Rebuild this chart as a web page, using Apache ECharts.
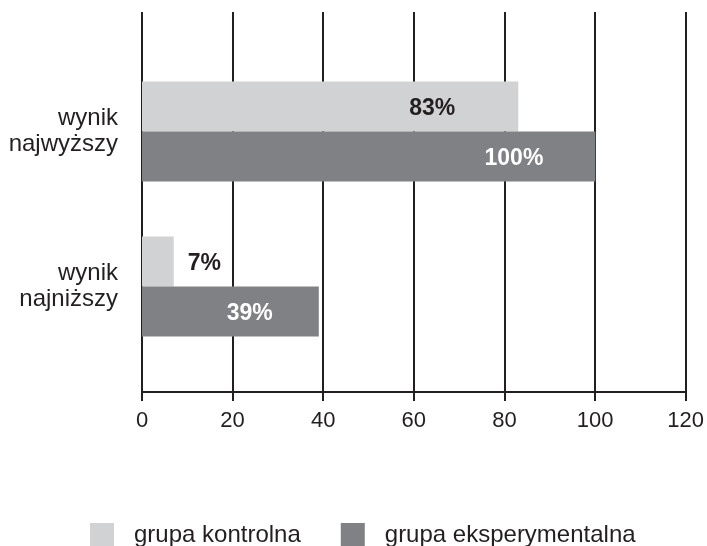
<!DOCTYPE html>
<html>
<head>
<meta charset="utf-8">
<script src="https://cdn.jsdelivr.net/npm/echarts@6/dist/echarts.min.js"></script>
<style>html,body{margin:0;padding:0;background:#fff}#c{width:707px;height:546px}</style>
</head>
<body>
<div id="c"></div>
<script>
var categories = ['wynik\nnajwyższy', 'wynik\nnajniższy'];
var seriesNames = ['grupa kontrolna', 'grupa eksperymentalna'];
var kontrolna = [83, 7];
var eksperymentalna = [100, 39];
var xTicks = [0, 20, 40, 60, 80, 100, 120];

var FONT = '"Liberation Sans", Arial, sans-serif';
var TXT = '#231f20';
var LIGHT = '#d1d2d4';
var DARK = '#808184';

// label placement (style, not data)
var labelStyleK = [
  {position: 'insideRight', distance: 63, color: TXT},
  {position: 'right', distance: 14, color: TXT}
];
var labelStyleE = [
  {position: 'insideRight', distance: 52, color: '#ffffff'},
  {position: 'insideRight', distance: 46, color: '#ffffff'}
];
function build(vals, styles) {
  return vals.map(function (v, i) {
    return {value: v, label: Object.assign({show: true, formatter: '{c}%', fontFamily: FONT, fontSize: 23, fontWeight: 'bold', offset: [0, 2]}, styles[i])};
  });
}

var chart = echarts.init(document.getElementById('c'), null, {renderer: 'canvas'});
chart.setOption({
  backgroundColor: '#fff',
  animation: false,
  legend: {
    left: 85, top: 518,
    itemWidth: 24, itemHeight: 24, itemGap: 40,
    icon: 'rect',
    data: seriesNames,
    textStyle: {fontFamily: FONT, fontSize: 24, color: TXT, padding: [0, 0, 0, 15]}
  },
  grid: [
    {left: 142, right: 21, top: 12, height: 380, containLabel: false},
    {left: 142, right: 21, top: 54, height: 310, containLabel: false}
  ],
  xAxis: [
    {
      gridIndex: 0, type: 'value', min: xTicks[0], max: xTicks[xTicks.length - 1], interval: 20,
      axisLine: {show: true, lineStyle: {color: '#231f20', width: 2}},
      axisTick: {show: true, length: 9, lineStyle: {color: '#231f20', width: 2}},
      axisLabel: {fontFamily: FONT, fontSize: 22, color: TXT, margin: 18},
      splitLine: {show: true, lineStyle: {color: '#231f20', width: 2}}
    },
    {
      gridIndex: 1, type: 'value', min: xTicks[0], max: xTicks[xTicks.length - 1], interval: 20,
      show: false, splitLine: {show: false}
    }
  ],
  yAxis: [
    {gridIndex: 0, type: 'value', show: false, splitLine: {show: false}},
    {
      gridIndex: 1, type: 'category', data: categories, inverse: true,
      axisLine: {show: false}, axisTick: {show: false},
      axisLabel: {fontFamily: FONT, fontSize: 24, color: TXT, margin: 24, lineHeight: 26, align: 'right'}
    }
  ],
  series: [
    {
      name: seriesNames[0], type: 'bar', xAxisIndex: 1, yAxisIndex: 1,
      barWidth: 50, barGap: '0%',
      itemStyle: {color: LIGHT},
      data: build(kontrolna, labelStyleK)
    },
    {
      name: seriesNames[1], type: 'bar', xAxisIndex: 1, yAxisIndex: 1,
      barWidth: 50, barGap: '0%',
      itemStyle: {color: DARK},
      data: build(eksperymentalna, labelStyleE)
    }
  ]
});
</script>
</body>
</html>
